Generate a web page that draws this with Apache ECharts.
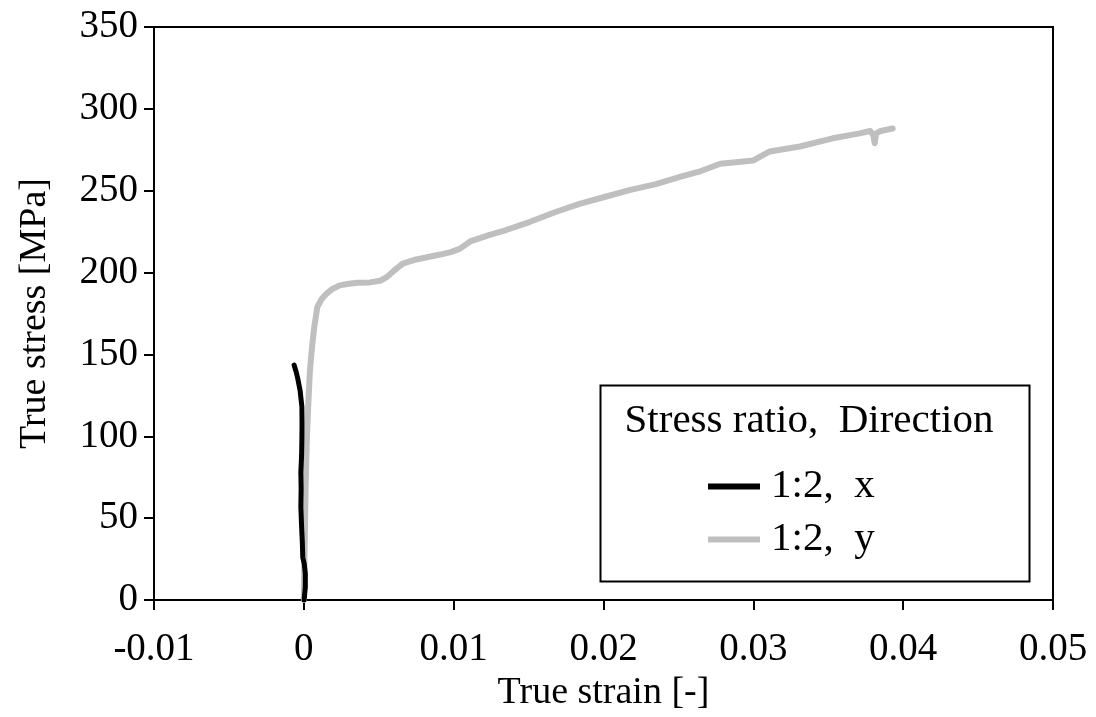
<!DOCTYPE html>
<html>
<head>
<meta charset="utf-8">
<script src="https://cdn.jsdelivr.net/npm/echarts@6/dist/echarts.min.js"></script>
<style>
html,body{margin:0;padding:0;background:#fff;}
#chart{width:1096px;height:717px;}
</style>
</head>
<body>
<div id="chart"></div>
<script>
// Series: direction x (black)
const strainX = [0.00002, 0.0001, 0.0001, 0.00003, -0.00007, -0.0001, -0.00015, -0.0002, -0.00018, -0.0002, -0.00015, -0.00013, -0.00012, -0.00013, -0.00025, -0.0004, -0.0005, -0.00065];
const stressX = [0, 8, 16, 22, 26, 35, 45, 57, 68, 78, 88, 98, 108, 118, 128, 135, 139, 143.5];
// Series: direction y (gray)
const strainY = [0, 0.00005, 0.00012, 0.0002, 0.0003, 0.0004, 0.0005, 0.0006, 0.0007, 0.0009, 0.0012, 0.0015, 0.0019, 0.0024, 0.003, 0.0036, 0.0044, 0.0051, 0.0055, 0.006, 0.0066, 0.0075, 0.0083, 0.0091, 0.0098, 0.0104, 0.0111, 0.0124, 0.0135, 0.0151, 0.0168, 0.0184, 0.0200, 0.0218, 0.0235, 0.0251, 0.0265, 0.0278, 0.030, 0.0311, 0.0331, 0.0353, 0.0371, 0.0378, 0.0380, 0.0381, 0.0382, 0.0385, 0.0393];
const stressY = [0, 30, 70, 98, 120, 139, 150, 159, 167, 179, 184, 187, 190, 192.2, 193.2, 193.8, 194, 195, 197, 201, 205.5, 208, 209.5, 211, 212.5, 214.5, 219, 223, 226, 231, 237, 242, 246, 250.5, 254, 258.5, 262, 266.5, 268.5, 274, 277, 282, 285, 286.5, 284, 279, 285, 286.5, 288];

const seriesNames = ['1:2,\u2002x', '1:2,\u2002y'];
const legendTitle = 'Stress ratio,\u2002Direction';
const xName = 'True strain [-]';
const yName = 'True stress [MPa]';

const FONT = '"Liberation Serif", "Times New Roman", serif';
const chart = echarts.init(document.getElementById('chart'));

const pairs = (xs, ys) => xs.map((x, i) => [x, ys[i]]);

chart.setOption({
  animation: false,
  backgroundColor: '#fff',
  grid: {left: 154, right: 43, top: 27, bottom: 117, show: true, borderColor: '#000', borderWidth: 2, backgroundColor: 'transparent'},
  xAxis: {
    type: 'value', min: -0.01, max: 0.05, interval: 0.01,
    name: xName, nameLocation: 'middle', nameGap: 73,
    nameTextStyle: {fontFamily: FONT, fontSize: 38, color: '#000'},
    axisLine: {show: true, onZero: false, lineStyle: {color: '#000', width: 2}},
    axisTick: {show: true, inside: false, length: 10, lineStyle: {color: '#000', width: 2}},
    axisLabel: {fontFamily: FONT, fontSize: 39, color: '#000', margin: 30,
      formatter: v => String(parseFloat(v.toFixed(4)))},
    splitLine: {show: false}
  },
  yAxis: {
    type: 'value', min: 0, max: 350, interval: 50,
    name: yName, nameLocation: 'middle', nameGap: 100,
    nameTextStyle: {fontFamily: FONT, fontSize: 38, color: '#000'},
    axisLine: {show: true, onZero: false, lineStyle: {color: '#000', width: 2}},
    axisTick: {show: true, inside: false, length: 10, lineStyle: {color: '#000', width: 2}},
    axisLabel: {fontFamily: FONT, fontSize: 39, color: '#000', margin: 16},
    splitLine: {show: false}
  },
  legend: {
    orient: 'vertical', left: 703, top: 461,
    data: [seriesNames[0], seriesNames[1]],
    icon: 'rect', itemWidth: 52, itemHeight: 6, itemGap: 12,
    textStyle: {fontFamily: FONT, fontSize: 41, color: '#000', lineHeight: 40, padding: [0, 0, 0, 6]}
  },
  graphic: [
    {type: 'rect', left: 598, top: 383, shape: {width: 429, height: 196},
      style: {fill: 'none', stroke: '#000', lineWidth: 2}, z: 5},
    {type: 'text', x: 809, y: 421, style: {text: legendTitle, font: '41px ' + FONT, fill: '#000', textAlign: 'center', textVerticalAlign: 'middle'}, z: 5}
  ],
  series: [
    {name: seriesNames[1], type: 'line', data: pairs(strainY, stressY), showSymbol: false, symbol: 'none',
      lineStyle: {color: '#bfbfbf', width: 6, cap: 'round', join: 'round'}, itemStyle: {color: '#bfbfbf'}, z: 2},
    {name: seriesNames[0], type: 'line', data: pairs(strainX, stressX), showSymbol: false, symbol: 'none',
      lineStyle: {color: '#000', width: 5, cap: 'round', join: 'round'}, itemStyle: {color: '#000'}, z: 3}
  ]
});
</script>
</body>
</html>
